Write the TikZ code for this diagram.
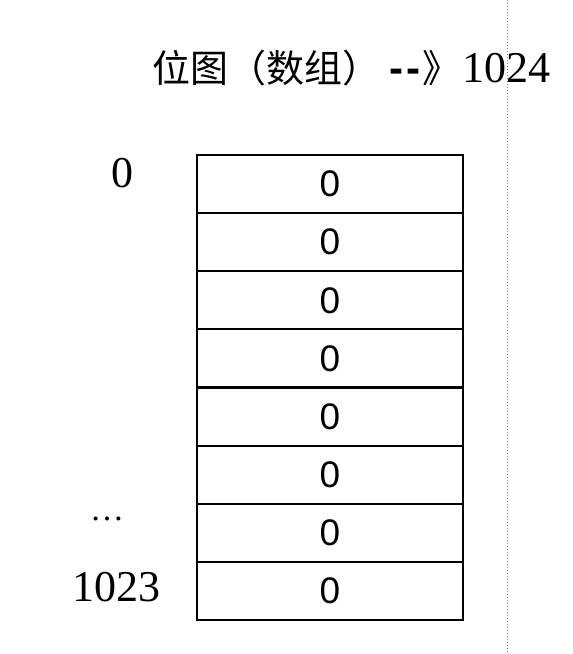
\documentclass[tikz,border=0pt]{standalone}
\usepackage{fontspec}
\setmainfont{Liberation Serif}
\newfontfamily\cellfont{Liberation Sans}
\newfontfamily\cjk{Noto Sans CJK SC}
\usepackage{tikz}
\usetikzlibrary{positioning}

\tikzset{
  bitcell/.style={draw, line width=2pt, minimum width=266pt, minimum height=58.1pt,
    inner sep=0pt, font=\cellfont\fontsize{37}{40}\selectfont},
  idxtext/.style={anchor=base, inner sep=0pt, font=\fontsize{44}{48}\selectfont},
  titletext/.style={anchor=base west, inner sep=0pt},
}

\begin{document}
\begin{tikzpicture}[x=1pt,y=-1pt]
  \useasboundingbox (0,0) rectangle (573,654);

  % title
  \node[titletext, font=\cjk\fontsize{38}{42}\selectfont] (titlecn) at (152,82) {位图（数组）};
  \node[titletext, font=\cellfont\bfseries\fontsize{42}{46}\selectfont] (titledash) at (389,82) {-\kern3pt-};
  \node[titletext, font=\cjk\fontsize{38}{42}\selectfont] (titlearr) at (422,82) {》};
  \node[titletext, font=\fontsize{44}{48}\selectfont] (titlenum) at (462,82) {1024};

  % bit array
  \foreach \i in {0,...,7}
    \node[bitcell] (c\i) at (330, 184.06 + 58.125*\i) {0};

  % indexes
  \node[idxtext] (idx0) at (122,187) {0};
  \node[idxtext, font=\fontsize{34}{38}\selectfont] (idxdots) at (107,520) {\ldots};
  \node[idxtext] (idxlast) at (116,601) {1023};

  % page edge
  \draw[gray, dotted, line width=1pt] (507,0) -- (507,654);
\end{tikzpicture}
\end{document}
